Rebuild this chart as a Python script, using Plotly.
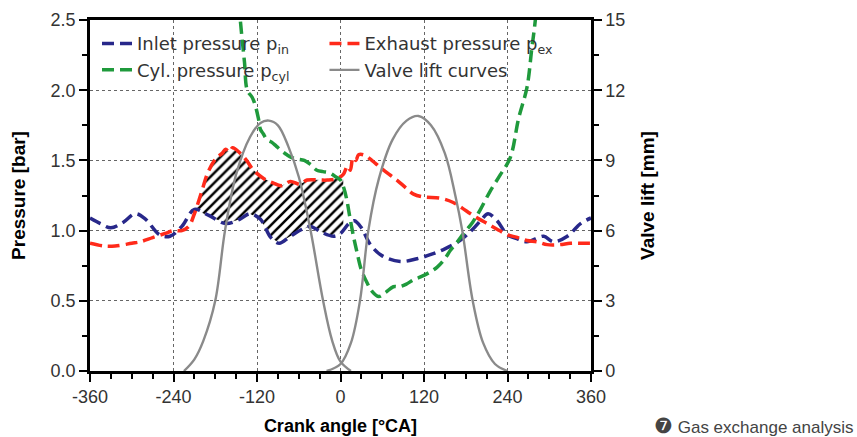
import numpy as np
import plotly.graph_objects as go

# ---------------- data ----------------
inlet_x = [-360, -345, -330, -312, -295, -280, -260, -245, -228, -210, -190, -165, -145, -130,
           -115, -100, -88, -72, -55, -43, -28, -10, 0, 12, 20, 30, 43, 60, 86, 110, 130, 150,
           172, 190, 203, 212, 225, 240, 255, 268, 280, 292, 306, 326, 345, 360]
inlet_p = [1.09, 1.05, 1.02, 1.06, 1.12, 1.08, 0.97, 0.96, 1.03, 1.15, 1.11, 1.05, 1.08, 1.12,
           1.08, 0.95, 0.91, 0.96, 1.01, 1.03, 0.99, 0.96, 0.98, 1.05, 1.07, 1.02, 0.90, 0.82,
           0.78, 0.80, 0.83, 0.87, 0.93, 1.01, 1.08, 1.12, 1.07, 0.97, 0.94, 0.92, 0.94, 0.96,
           0.92, 0.96, 1.05, 1.09]

exhaust_x = [-360, -340, -324, -300, -288, -270, -252, -240, -228, -218, -210, -200, -190, -178,
             -170, -165, -160, -155, -144, -135, -125, -110, -97, -85, -72, -58, -48, -30, -19,
             -5, 4, 10, 14, 18, 22, 26, 33, 45, 57, 70, 81, 95, 105, 119, 144, 162, 175, 187,
             200, 211, 225, 240, 255, 268, 283, 297, 315, 330, 345, 360]
exhaust_p = [0.91, 0.89, 0.89, 0.91, 0.92, 0.95, 0.98, 1.00, 1.00, 1.03, 1.12, 1.27, 1.42, 1.52,
             1.55, 1.58, 1.56, 1.59, 1.55, 1.50, 1.43, 1.37, 1.34, 1.32, 1.35, 1.33, 1.36, 1.36,
             1.36, 1.37, 1.40, 1.46, 1.43, 1.52, 1.50, 1.54, 1.54, 1.50, 1.45, 1.40, 1.36, 1.30,
             1.26, 1.24, 1.23, 1.20, 1.16, 1.12, 1.08, 1.05, 1.01, 0.97, 0.95, 0.93, 0.92, 0.90,
             0.90, 0.91, 0.91, 0.91]

cyl_x = [-152, -144, -138, -134, -127, -123, -118, -115, -111, -106, -99, -92, -85, -77, -70,
         -62, -52, -43, -34, -25, -15, -6, 0, 5, 9, 14, 19, 24, 30, 38, 45, 55, 65, 76, 85, 95,
         105, 115, 127, 139, 150, 158, 168, 177, 190, 201, 215, 230, 244, 256, 268, 275, 280, 286]
cyl_p = [3.00, 2.50, 2.20, 2.00, 1.95, 1.90, 1.80, 1.72, 1.69, 1.65, 1.63, 1.60, 1.57, 1.54, 1.52,
         1.51, 1.50, 1.47, 1.43, 1.42, 1.41, 1.38, 1.36, 1.30, 1.22, 1.08, 0.95, 0.84, 0.72, 0.63,
         0.57, 0.53, 0.56, 0.60, 0.60, 0.62, 0.65, 0.67, 0.70, 0.74, 0.80, 0.86, 0.92, 0.98, 1.06,
         1.15, 1.28, 1.40, 1.52, 1.80, 2.02, 2.30, 2.50, 2.90]

exh_valve_x = [-225, -210, -197, -180, -166, -150, -130, -115, -103, -90, -75, -60, -43, -25, -12, 0, 15]
exh_valve_l = [0.0, 0.5, 1.3, 3.0, 6.0, 8.4, 10.0, 10.6, 10.7, 10.5, 9.6, 8.3, 6.0, 3.0, 1.3, 0.4, 0.0]

int_valve_x = [-20, 0, 15, 28, 40, 55, 75, 95, 112, 130, 150, 165, 175, 190, 205, 222, 240]
int_valve_l = [0.0, 0.3, 1.2, 3.0, 6.0, 8.2, 9.9, 10.7, 10.9, 10.5, 9.3, 7.5, 6.0, 3.0, 1.2, 0.3, 0.0]

hatch_range = [-212, 4]   # crank-angle span of the hatched (scavenging) area

x_ticks = [-360, -240, -120, 0, 120, 240, 360]
x_ticktext = [str(v) for v in x_ticks]

# ---------------- figure ----------------
FONT = "Liberation Sans, Arial, sans-serif"
LEG_FONT = "DejaVu Sans, Liberation Sans, sans-serif"
TXT = "#333333"
DASH = "12px,6px"

fig = go.Figure()

# hatched area between exhaust and inlet pressure
hx = np.linspace(hatch_range[0], hatch_range[1], 120)
top = np.interp(hx, exhaust_x, exhaust_p)
bot = np.interp(hx, inlet_x, inlet_p)
fig.add_trace(go.Scatter(
    x=np.concatenate([hx, hx[::-1]]), y=np.concatenate([top, bot[::-1]]),
    fill="toself", fillcolor="white", mode="lines", line=dict(width=0),
    fillpattern=dict(shape="/", fgcolor="black", bgcolor="white", fgopacity=1,
                     size=7, solidity=0.36),
    showlegend=False, hoverinfo="skip"))

gray = "#8a8a8a"
fig.add_trace(go.Scatter(x=exh_valve_x, y=exh_valve_l, yaxis="y2", mode="lines",
                         line=dict(color=gray, width=2.4, shape="spline"),
                         showlegend=False))

fig.add_trace(go.Scatter(x=inlet_x, y=inlet_p, mode="lines",
                         line=dict(color="#28288a", width=3.5, dash=DASH, shape="spline"),
                         name="Inlet pressure p<sub>in</sub>", legend="legend", legendrank=1))
fig.add_trace(go.Scatter(x=exhaust_x, y=exhaust_p, mode="lines",
                         line=dict(color="#ff2a1a", width=3.5, dash=DASH, shape="spline"),
                         name="Exhaust pressure p<sub>ex</sub>", legend="legend2", legendrank=1))
fig.add_trace(go.Scatter(x=cyl_x, y=cyl_p, mode="lines",
                         line=dict(color="#1f9a3c", width=3.5, dash=DASH, shape="spline"),
                         name="Cyl. pressure p<sub>cyl</sub>", legend="legend", legendrank=2))
fig.add_trace(go.Scatter(x=int_valve_x, y=int_valve_l, yaxis="y2", mode="lines",
                         line=dict(color=gray, width=2.4, shape="spline"),
                         name="Valve lift curves", legend="legend2", legendrank=2))

axis_common = dict(showline=True, linecolor="black", linewidth=2.5,
                   ticks="outside", ticklen=8, tickwidth=2, tickcolor="black",
                   tickfont=dict(family=FONT, size=18, color=TXT), zeroline=False,
                   automargin=False)

TITLE_FONT = dict(family=FONT, size=19, color="black")

fig.update_layout(
    width=857, height=437,
    margin=dict(l=90, r=266, t=20, b=66),
    paper_bgcolor="white", plot_bgcolor="white",
    font=dict(family=FONT, color=TXT),
    xaxis=dict(range=[-360, 360], tickvals=x_ticks, ticktext=x_ticktext, mirror=True,
               showgrid=True, gridcolor="#666666", griddash="dot", gridwidth=1,
               minor=dict(dtick=30, ticks="outside", ticklen=5, tickwidth=1.5, tickcolor="black"),
               title=dict(text="<b>Crank angle [°CA]</b>", standoff=14,
                          font=dict(family=FONT, size=18, color="black")),
               **axis_common),
    yaxis=dict(range=[0, 2.5], dtick=0.5, tickformat=".1f",
               showgrid=True, gridcolor="#666666", griddash="dot", gridwidth=1,
               minor=dict(dtick=0.25, ticks="outside", ticklen=5, tickwidth=1.5, tickcolor="black"),
               title=dict(text="<b>Pressure [bar]</b>", standoff=20, font=TITLE_FONT),
               **axis_common),
    yaxis2=dict(range=[0, 15], dtick=3, overlaying="y", side="right", showgrid=False,
                minor=dict(dtick=1.5, ticks="outside", ticklen=5, tickwidth=1.5, tickcolor="black"),
                title=dict(text="<b>Valve lift [mm]</b>", standoff=17, font=TITLE_FONT),
                **axis_common),
    legend=dict(x=0.014, y=0.985, xanchor="left", yanchor="top", bgcolor="rgba(0,0,0,0)",
                font=dict(family=LEG_FONT, size=18, color=TXT), tracegroupgap=0),
    legend2=dict(x=0.468, y=0.985, xanchor="left", yanchor="top", bgcolor="rgba(0,0,0,0)",
                 font=dict(family=LEG_FONT, size=18, color=TXT), tracegroupgap=0),
    annotations=[dict(text="<span style='font-size:21px'>❼</span> Gas exchange analysis",
                      xref="paper", yref="paper",
                      x=1.528, y=-0.155, xanchor="right", yanchor="middle", showarrow=False,
                      font=dict(family=FONT, size=17, color="#444444"))],
)

fig.write_html("out.html")
